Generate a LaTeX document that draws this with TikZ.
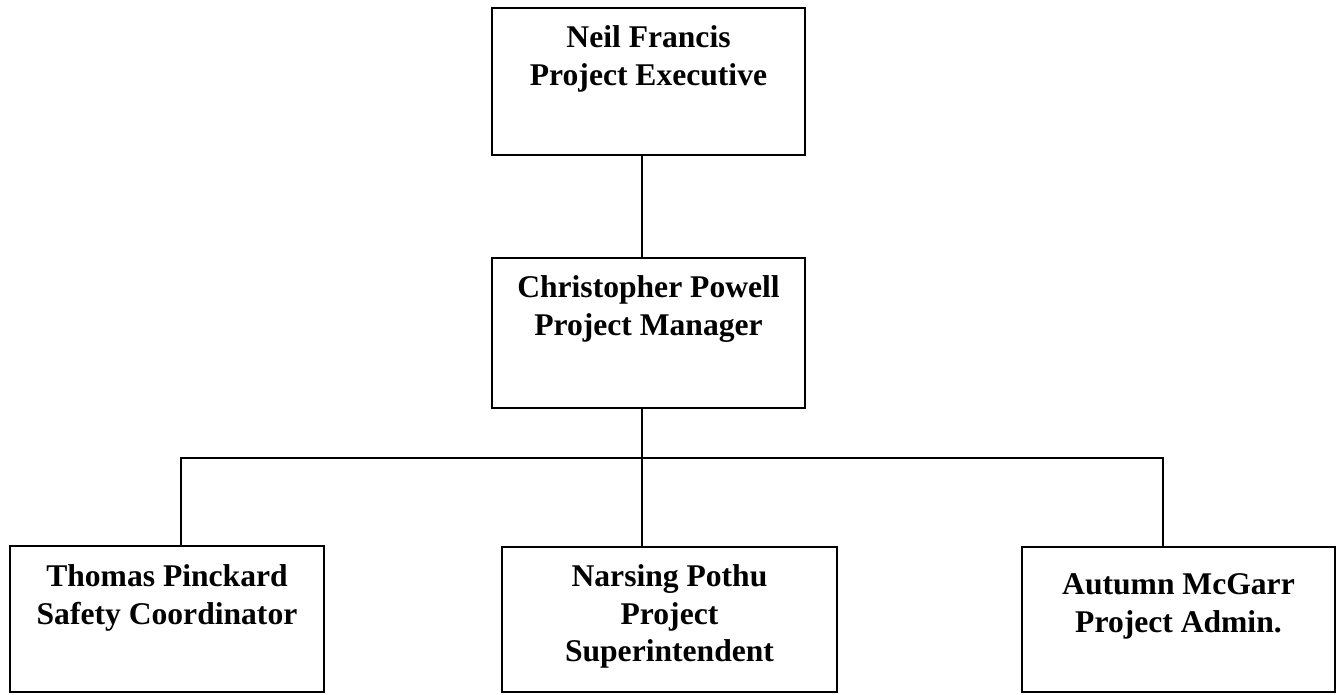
\documentclass[tikz,border=0pt]{standalone}
\usepackage{fontspec}
\setmainfont{Liberation Serif}
\begin{document}
\begin{tikzpicture}[x=1pt,y=-1pt,
  box/.style={draw=black,line width=2.7pt,rectangle,inner sep=0pt,anchor=center},
  lbl/.style={anchor=north,align=center,inner sep=0pt,font=\fontsize{31.6}{37.5}\selectfont\bfseries},
  wire/.style={draw=black,line width=2.5pt,line join=miter}]
\useasboundingbox (0,0) rectangle (1342,694);
% boxes
\node[box,minimum width=313pt,minimum height=147pt] (exec) at (648.5,81.5) {};
\node[box,minimum width=313pt,minimum height=150pt] (mgr) at (648.5,333) {};
\node[box,minimum width=314pt,minimum height=146pt] (left) at (167,619) {};
\node[box,minimum width=335pt,minimum height=145pt] (mid) at (669.5,619.5) {};
\node[box,minimum width=313pt,minimum height=145pt] (right) at (1178.5,619.5) {};
% texts
\node[lbl] (exect) at ([yshift=-19pt]exec.north) {Neil Francis\\Project Executive};
\node[lbl] (mgrt) at ([yshift=-19pt]mgr.north) {Christopher Powell\\Project Manager};
\node[lbl] (leftt) at ([yshift=-20pt]left.north) {Thomas Pinckard\\Safety Coordinator};
\node[lbl] (midt) at ([yshift=-19pt]mid.north) {Narsing Pothu\\Project\\Superintendent};
\node[lbl] (rightt) at ([yshift=-28pt]right.north) {Autumn McGarr\\Project Admin.};
% connector coordinates
\coordinate (trunk) at (642,458);
\coordinate (bl) at (181,458);
\coordinate (br) at (1163,458);
% connectors
\draw[wire] (exec.south -| trunk) -- (mgr.north -| trunk);
\draw[wire] (mgr.south -| trunk) -- (trunk);
\draw[wire] (left.north -| bl) -- (bl) -- (br) -- (right.north -| br);
\draw[wire] (trunk) -- (mid.north -| trunk);
\end{tikzpicture}
\end{document}
